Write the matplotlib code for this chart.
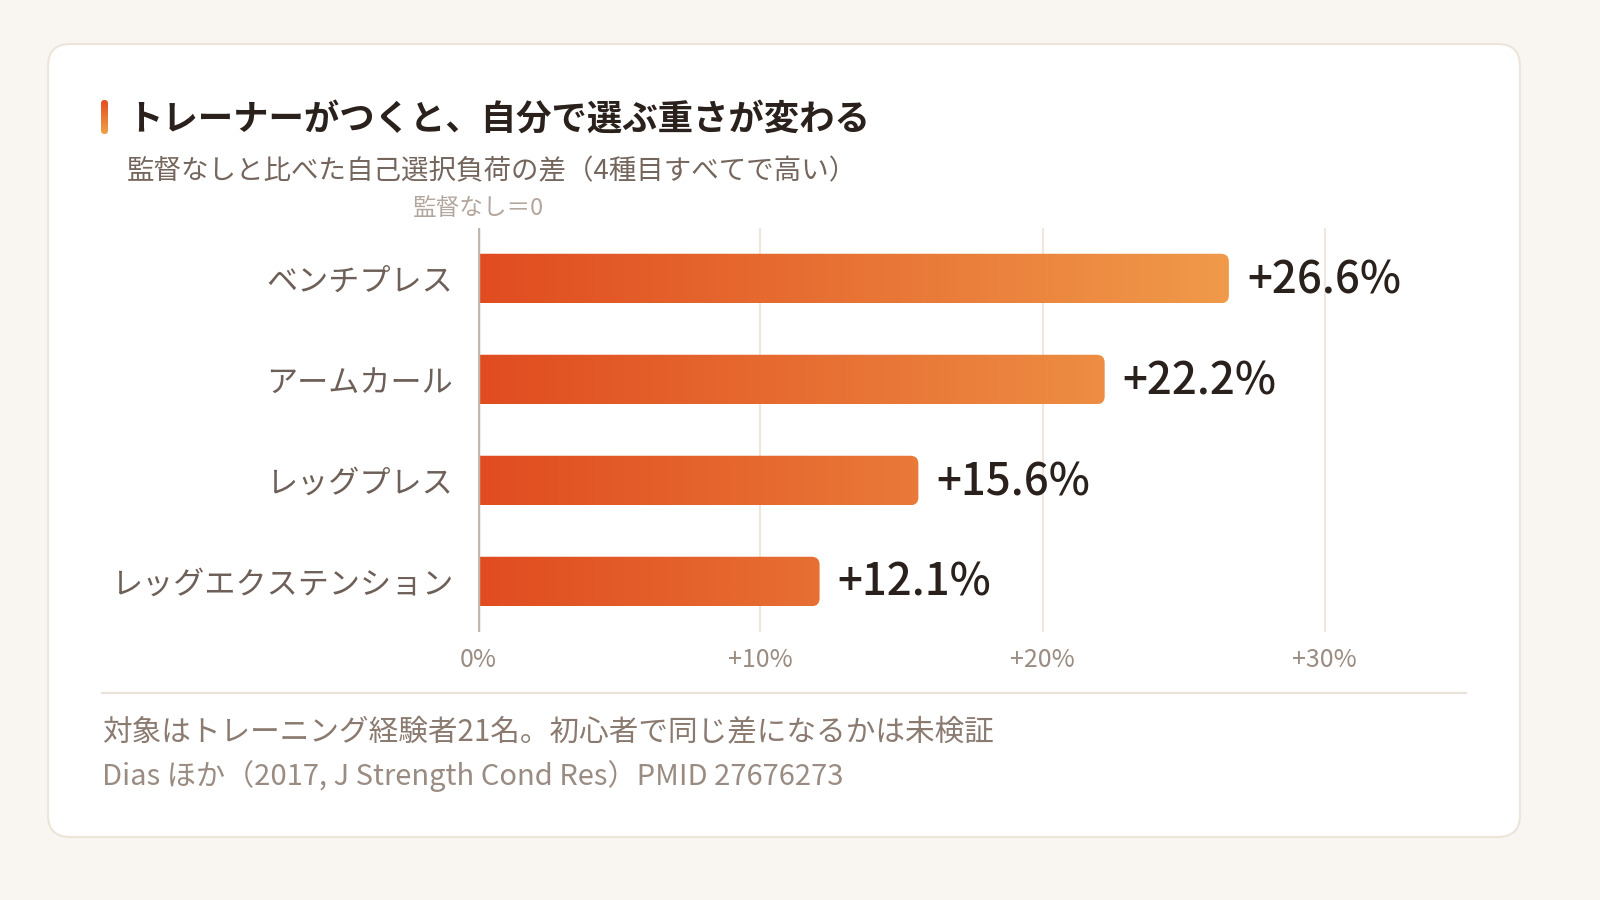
import numpy as np
import matplotlib
matplotlib.use("Agg")
import matplotlib.pyplot as plt
from matplotlib.patches import FancyBboxPatch
from matplotlib.colors import LinearSegmentedColormap

plt.rcParams["font.family"] = ["Noto Sans CJK JP", "DejaVu Sans"]

# data
exercises = ["ベンチプレス", "アームカール", "レッグプレス", "レッグエクステンション"]
diff_pct = [26.6, 22.2, 15.6, 12.1]
tick_vals = [0, 10, 20, 30]
tick_labels = ["0%", "+10%", "+20%", "+30%"]

title = "トレーナーがつくと、自分で選ぶ重さが変わる"
subtitle = "監督なしと比べた自己選択負荷の差（4種目すべてで高い）"
zero_label = "監督なし＝0"
note = "対象はトレーニング経験者21名。初心者で同じ差になるかは未検証"
source = "Dias ほか（2017, J Strength Cond Res）PMID 27676273"

W, H = 1600, 900
fig = plt.figure(figsize=(16, 9), dpi=100)
fig.patch.set_facecolor("#F9F6F2")

# card background
bg = fig.add_axes([0, 0, 1, 1])
bg.set_xlim(0, W)
bg.set_ylim(H, 0)
bg.axis("off")
bg.add_patch(FancyBboxPatch((48, 44), 1472, 793,
                            boxstyle="round,pad=0,rounding_size=22",
                            facecolor="white", edgecolor="#EDE4DA", linewidth=1.5))

# accent mark next to title
accent = np.linspace(0, 1, 50).reshape(-1, 1)
acmap = LinearSegmentedColormap.from_list("acc", ["#E2501F", "#F0A048"])
im = bg.imshow(accent, cmap=acmap, extent=[101, 108, 134, 100], aspect="auto", zorder=3)
clip = FancyBboxPatch((101, 100), 7, 34, boxstyle="round,pad=0,rounding_size=3.5",
                      transform=bg.transData, facecolor="none", edgecolor="none")
bg.add_patch(clip)
im.set_clip_path(clip)

bg.text(127, 119, title, fontsize=25.5, fontweight="bold", color="#2A211D",
        va="center", ha="left")
bg.text(127, 172, subtitle, fontsize=19.8, color="#75665D", va="center", ha="left")

# footer
bg.plot([102, 1466], [693, 693], color="#EAE2D9", lw=1.5)
bg.text(102, 732, note, fontsize=21.3, color="#8A7A70", va="center", ha="left")
bg.text(102, 776, source, fontsize=21, color="#9A8C82", va="center", ha="left")

# chart area
ax_left, ax_right = 478 / W, 1466 / W
ax_top, ax_bot = 228 / H, 632 / H
ax = fig.add_axes([ax_left, 1 - ax_bot, ax_right - ax_left, ax_bot - ax_top])
ax.set_facecolor("none")
xmax = 35
ax.set_xlim(0, xmax)
ax.set_ylim(len(exercises) - 0.5, -0.5)
for s in ax.spines.values():
    s.set_visible(False)

for v in tick_vals[1:]:
    ax.axvline(v, color="#EFE7DE", lw=1.5, zorder=0)
ax.axvline(0, color="#C4B6AC", lw=2.5, zorder=4)

ax.set_xticks(tick_vals)
ax.set_xticklabels(tick_labels, fontsize=18, color="#9A8C82")
ax.tick_params(axis="x", length=0, pad=11)
ax.set_yticks(range(len(exercises)))
ax.set_yticklabels(exercises, fontsize=22.4, color="#6E6058")
ax.tick_params(axis="y", length=0, pad=18)

# bar gradient along the x data axis
gmax = max(diff_pct)
bcmap = LinearSegmentedColormap.from_list("bar", ["#E04C20", "#F09A4A"])
bar_h = 0.49
px_x = (ax_right - ax_left) * W / xmax
px_y = (ax_bot - ax_top) * H / len(exercises)
r_px = 8
for i, v in enumerate(diff_pct):
    grad = np.linspace(0, v / gmax, 256).reshape(1, -1)
    img = ax.imshow(grad, cmap=bcmap, vmin=0, vmax=1,
                    extent=[0, v, i + bar_h / 2, i - bar_h / 2],
                    aspect="auto", zorder=2, interpolation="bilinear")
    patch = FancyBboxPatch((-1, i - bar_h / 2), v + 1, bar_h,
                           boxstyle=f"round,pad=0,rounding_size={r_px / px_x}",
                           mutation_aspect=px_x / px_y,
                           transform=ax.transData, facecolor="none", edgecolor="none")
    ax.add_patch(patch)
    img.set_clip_path(patch)
    ax.text(v + 18 / px_x, i + 2 / px_y, f"+{v}%", fontsize=31.5, fontweight="medium",
            color="#2A211D", va="center", ha="left")

ax.set_xlim(0, xmax)
ax.set_ylim(len(exercises) - 0.5, -0.5)
ax.text(0, -0.5 - 20 / px_y, zero_label, fontsize=17, color="#B3A69C",
        ha="center", va="center")

fig.savefig("out.png", dpi=100, facecolor=fig.get_facecolor())
